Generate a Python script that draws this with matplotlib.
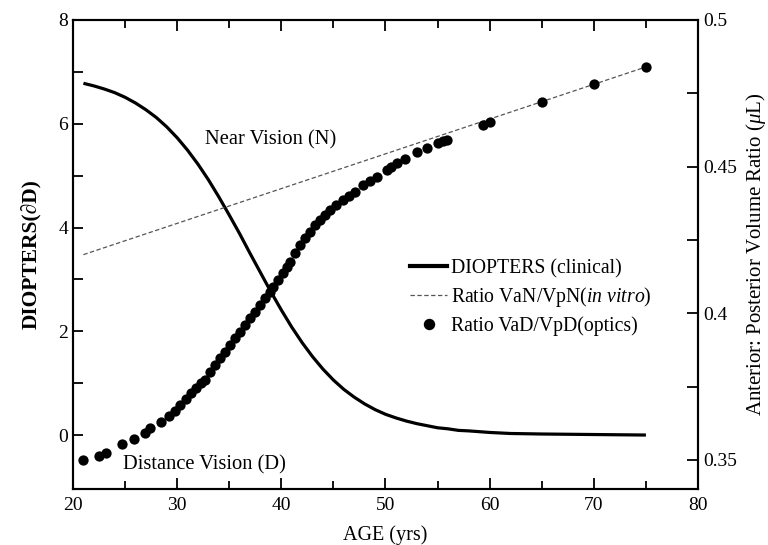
import matplotlib
matplotlib.use("Agg")
import matplotlib.pyplot as plt
from matplotlib.ticker import MultipleLocator, FixedLocator
from matplotlib.lines import Line2D

plt.rcParams['font.family'] = ['Liberation Serif', 'DejaVu Serif']
plt.rcParams['mathtext.fontset'] = 'custom'
plt.rcParams['mathtext.rm'] = 'Liberation Serif'
plt.rcParams['mathtext.it'] = 'Liberation Serif:italic'
plt.rcParams['mathtext.bf'] = 'Liberation Serif:bold'

# ---- data ----
age_clinical = [21, 22, 23, 24, 25, 26, 27, 28, 29, 30, 31, 32, 33, 34, 35, 36, 37,
                38, 39, 40, 41, 42, 43, 44, 45, 46, 47, 48, 49, 50, 51, 52, 53, 54,
                55, 56, 57, 58, 60, 62, 65, 70, 75]
diopters = [6.78, 6.73, 6.67, 6.60, 6.51, 6.40, 6.27, 6.12, 5.94, 5.73, 5.49, 5.22,
            4.92, 4.59, 4.24, 3.88, 3.50, 3.13, 2.76, 2.41, 2.08, 1.78, 1.51, 1.27,
            1.06, 0.88, 0.73, 0.60, 0.49, 0.40, 0.33, 0.27, 0.22, 0.18, 0.14, 0.12,
            0.09, 0.08, 0.05, 0.03, 0.02, 0.01, 0.00]

age_invitro = [21, 75]
ratio_invitro = [0.420, 0.484]

age_optics = [20.96, 22.54, 23.21, 24.70, 25.85, 26.88, 27.42, 28.47, 29.18, 29.76,
              30.30, 30.87, 31.35, 31.83, 32.31, 32.64, 33.12, 33.60, 34.08, 34.56,
              35.04, 35.52, 36.00, 36.48, 36.96, 37.44, 37.92, 38.40, 38.88, 39.19,
              39.67, 40.18, 40.54, 40.83, 41.31, 41.79, 42.26, 42.74, 43.22, 43.70,
              44.18, 44.66, 45.24, 45.94, 46.49, 47.06, 47.86, 48.50, 49.15, 50.11,
              50.52, 51.07, 51.86, 52.98, 54.00, 55.06, 55.51, 55.86, 59.32, 60.02,
              65.04, 70.03, 74.99]
ratio_optics = [0.3500, 0.3512, 0.3524, 0.3553, 0.3571, 0.3593, 0.3610, 0.3631, 0.3650, 0.3668,
                0.3688, 0.3707, 0.3727, 0.3744, 0.3762, 0.3773, 0.3801, 0.3824, 0.3847, 0.3869,
                0.3892, 0.3915, 0.3937, 0.3960, 0.3983, 0.4006, 0.4028, 0.4051, 0.4074, 0.4091,
                0.4114, 0.4137, 0.4158, 0.4176, 0.4206, 0.4233, 0.4257, 0.4278, 0.4300, 0.4318,
                0.4335, 0.4352, 0.4369, 0.4386, 0.4400, 0.4415, 0.4438, 0.4451, 0.4466, 0.4489,
                0.4499, 0.4512, 0.4525, 0.4551, 0.4563, 0.4580, 0.4586, 0.4591, 0.4642, 0.4653,
                0.4722, 0.4782, 0.4841]

left_ticks = [0, 2, 4, 6, 8]
left_minor = [1, 3, 5, 7]
right_ticks = [0.35, 0.4, 0.45, 0.5]
right_labels = ['0.35', '0.4', '0.45', '0.5']
right_minor = [0.375, 0.425, 0.475]
x_ticks = [20, 30, 40, 50, 60, 70, 80]

# ---- figure ----
fig = plt.figure(figsize=(7.68, 5.45), dpi=100)
ax = fig.add_axes([73/768, 1-489/545, (698-73)/768, (489-20)/545])
ax2 = ax.twinx()

ax.plot(age_clinical, diopters, color='black', lw=2.3, solid_capstyle='butt')
ax2.plot(age_invitro, ratio_invitro, color='#555555', lw=0.9, ls=(0, (3.5, 2)))
ax2.scatter(age_optics, ratio_optics, s=55, color='black', zorder=3, linewidths=0)

ax.set_xlim(20, 80)
ax.set_ylim(-1.04, 8)
ax2.set_ylim(0.3401, 0.5)

ax.set_xticks(x_ticks)
ax.xaxis.set_minor_locator(MultipleLocator(5))
ax.set_yticks(left_ticks)
ax.yaxis.set_minor_locator(FixedLocator(left_minor))
ax2.set_yticks(right_ticks)
ax2.set_yticklabels(right_labels)
ax2.yaxis.set_minor_locator(FixedLocator(right_minor))

ax.tick_params(axis='both', which='both', direction='in', labelsize=14, width=1.3)
ax.tick_params(axis='x', which='both', top=True)
ax.tick_params(axis='x', which='major', length=8, pad=6)
ax.tick_params(axis='x', which='minor', length=6)
ax.tick_params(axis='y', which='both', length=7)
ax2.tick_params(axis='y', which='both', direction='in', labelsize=14, width=1.3, length=8)

for a in (ax, ax2):
    for s in a.spines.values():
        s.set_linewidth(1.5)

ax.set_xlabel('AGE (yrs)', fontsize=14.5, labelpad=8)
ax.set_ylabel('DIOPTERS(∂D)', fontsize=15.5, fontweight='bold', labelpad=12)
ax2.set_ylabel(r'Anterior: Posterior Volume Ratio ($\mu$L)', fontsize=15, labelpad=5)

ax.text(32.7, 5.69, 'Near Vision (N)', fontsize=14.8, va='center', ha='left')
ax.text(24.8, -0.58, 'Distance Vision (D)', fontsize=14.8, va='center', ha='left')

handles = [Line2D([], [], color='black', lw=3),
           Line2D([], [], color='#555555', lw=0.9, ls=(0, (3.5, 2))),
           Line2D([], [], color='black', marker='o', ls='none', markersize=7.2)]
labels = ['DIOPTERS (clinical)', r'Ratio VaN/VpN($\it{in\ vitro}$)', 'Ratio VaD/VpD(optics)']
leg = ax.legend(handles, labels, loc='upper left', bbox_to_anchor=(410/768, 1-259/545),
                bbox_transform=fig.transFigure, frameon=False, fontsize=14.2,
                handlelength=1.9, handletextpad=0.2, labelspacing=0.36, borderpad=0,
                borderaxespad=0)

fig.savefig('out.png', dpi=100)
